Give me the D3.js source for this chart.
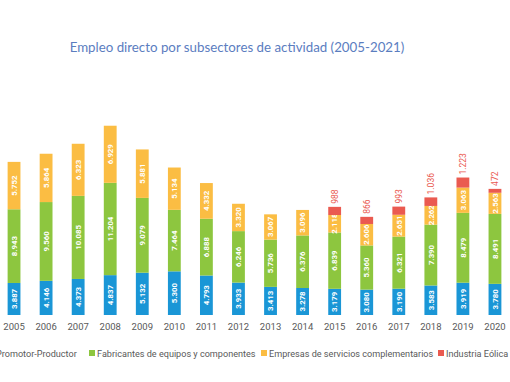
<!DOCTYPE html>
<html><head><meta charset="utf-8">
<script src="https://cdn.jsdelivr.net/npm/d3@7"></script>
<style>body{margin:0;background:#fff;overflow:hidden}svg{display:block}</style>
</head><body>
<svg id="c" width="510" height="382"></svg>
<script>
const years = ["2005","2006","2007","2008","2009","2010","2011","2012","2013","2014","2015","2016","2017","2018","2019","2020"];
const promotor = [3887,4146,4373,4837,5132,5300,4793,3933,3413,3278,3179,3080,3190,3583,3919,3780];
const fabricantes = [8943,9560,10085,11204,9079,7464,6888,6246,5736,6376,6839,5360,6321,7390,8479,8491];
const servicios = [5752,5864,6323,6929,5881,5134,4332,3320,3067,3096,2118,2606,2651,2262,3063,2563];
const industria = [0,0,0,0,0,0,0,0,0,0,988,866,993,1036,1223,472];
const seriesNames = ["Promotor-Productor","Fabricantes de equipos y componentes","Empresas de servicios complementarios","Industria Eólica Offshore"];
const colors = ["#1a96d6","#8dc63f","#fbbd43","#ea5a50"];
const title = "Empleo directo por subsectores de actividad (2005-2021)";

const svg = d3.select("#c");
const x = d3.scaleBand().domain(years).range([-2, 511]).paddingInner(0.6).paddingOuter(0.3);
const y = d3.scaleLinear().domain([0, 25000]).range([315, 109]);
const fmt = v => d3.format(",")(v).replace(/,/g, ".");

svg.append("text").attr("x", 237).attr("y", 52).attr("text-anchor", "middle")
  .attr("font-family", "Lato, sans-serif").attr("font-size", 13.3).attr("fill", "#5b7dbf")
  .text(title);

const data = years.map((yr, i) => ({yr, vals: [promotor[i], fabricantes[i], servicios[i], industria[i]]}));
const stack = d3.stack().keys([0,1,2,3]).value((d, k) => d.vals[k]);
const layers = stack(data);

layers.forEach((layer, k) => {
  const g = svg.append("g");
  layer.forEach((seg, i) => {
    const v = seg.data.vals[k];
    if (!v) return;
    const bx = x(seg.data.yr), bw = x.bandwidth();
    const y0 = y(seg[0]), y1 = y(seg[1]);
    g.append("rect").attr("x", bx).attr("y", y1).attr("width", bw).attr("height", y0 - y1).attr("fill", colors[k]);
    const cx = bx + bw / 2;
    if (k < 3) {
      g.append("text").attr("transform", `translate(${cx},${(y0 + y1) / 2}) rotate(-90)`)
        .attr("text-anchor", "middle").attr("dy", "0.35em")
        .attr("font-family", "Roboto, sans-serif").attr("font-size", 7.8).attr("font-weight", "bold")
        .attr("fill", "#fff").text(fmt(v));
    } else {
      g.append("text").attr("transform", `translate(${cx},${y1 - 3}) rotate(-90)`)
        .attr("text-anchor", "start").attr("dy", "0.35em")
        .attr("font-family", "Roboto, sans-serif").attr("font-size", 8.5)
        .attr("fill", colors[3]).text(fmt(v));
    }
  });
});

const xAxis = d3.axisBottom(x).tickSize(0).tickPadding(8);
const ax = svg.append("g").attr("transform", "translate(0,315)").call(xAxis);
ax.select(".domain").remove();
ax.selectAll("text").attr("font-family", "Roboto, sans-serif").attr("font-size", 9.5).attr("fill", "#595959");

const legendX = [-12, 89, 261, 438];
const lg = svg.append("g");
seriesNames.forEach((n, k) => {
  lg.append("rect").attr("x", legendX[k]).attr("y", 350).attr("width", 6).attr("height", 6).attr("fill", colors[k]);
  lg.append("text").attr("x", legendX[k] + 8).attr("y", 356.5)
    .attr("font-family", "Roboto, sans-serif").attr("font-size", 9.1).attr("fill", "#595959").text(n);
});
</script>
</body></html>
